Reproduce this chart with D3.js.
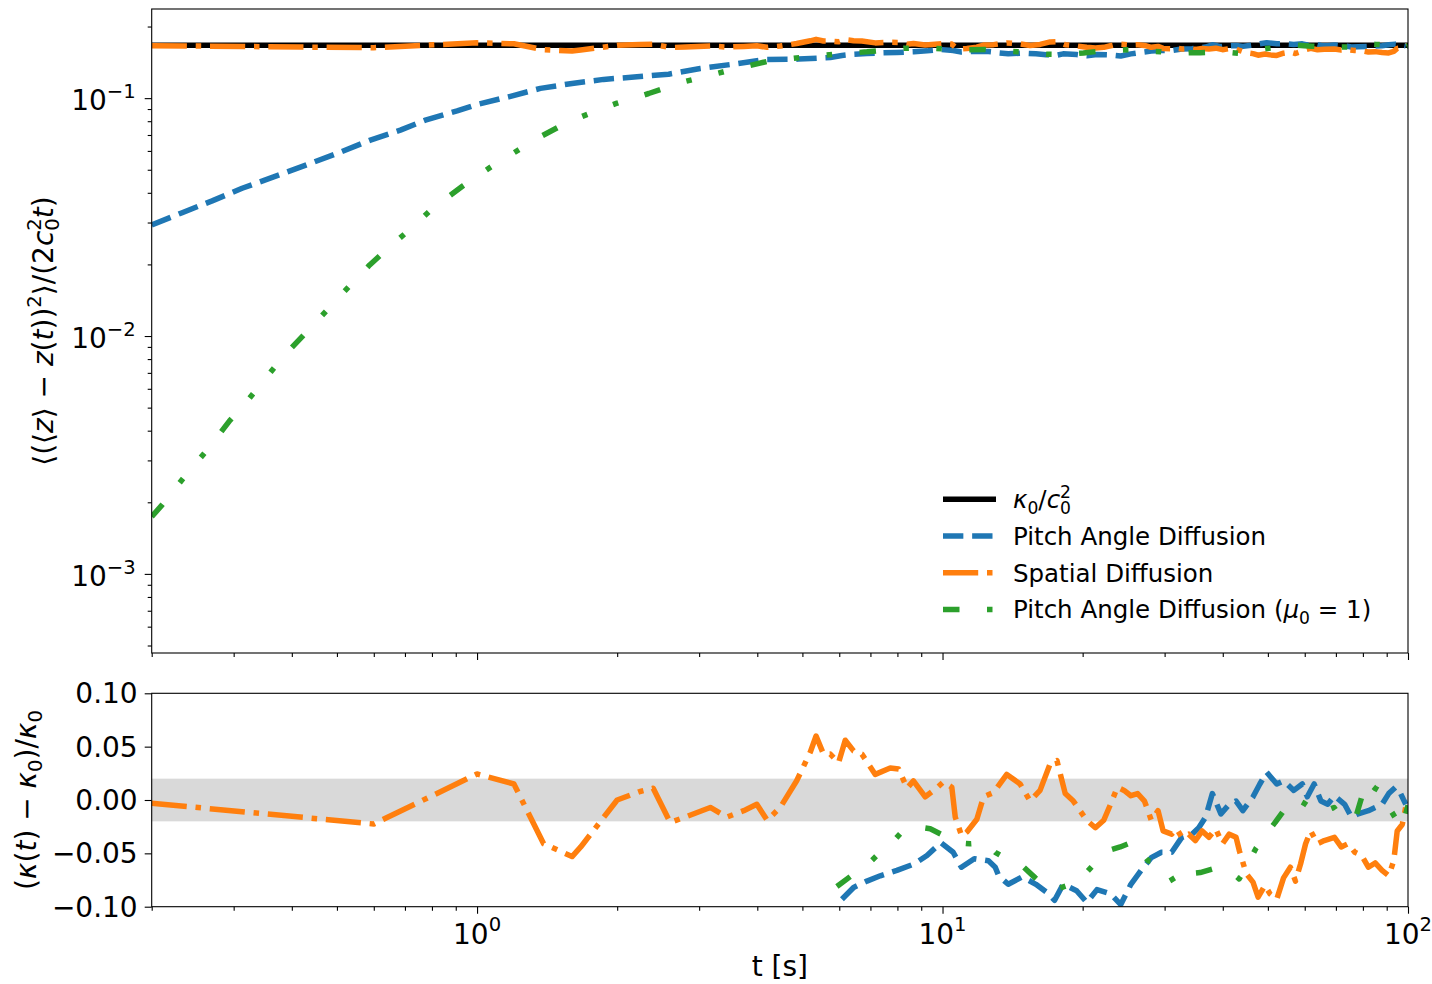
<!DOCTYPE html>
<html lang="en">
<head>
<meta charset="UTF-8">
<title>Diffusion coefficient</title>
<style>
  body { margin: 0; background: #fff; }
  #chart text { font-family: "DejaVu Sans", sans-serif; fill: #000; }
</style>
</head>
<body>
<svg id="chart" width="1432" height="984"></svg>
<script src="https://cdnjs.cloudflare.com/ajax/libs/d3/7.8.5/d3.min.js"></script>
<script>
// ---- data ----
const K0 = 0.1667; // kappa0 / c0^2

// top panel, early part (absolute value) before the deviation data starts
const blueEarlyT = [0.2, 0.2325, 0.2697, 0.3128, 0.3452, 0.4172, 0.5087, 0.590, 0.6843, 0.7744,
                    0.906, 1.0, 1.169, 1.368, 1.60, 1.87, 2.206, 2.579, 3.017, 3.557,
                    4.161, 4.906, 5.739];
const blueEarlyV = [0.0293, 0.0330, 0.0370, 0.0418, 0.0448, 0.0513, 0.0593, 0.0666, 0.0734, 0.0808,
                    0.0884, 0.0941, 0.1013, 0.1099, 0.1153, 0.1199, 0.1229, 0.1261, 0.1333, 0.1390,
                    0.1454, 0.1459, 0.1483];
const greenEarlyT = [0.2, 0.2106, 0.2351, 0.2645, 0.2942, 0.3091, 0.3458, 0.3876, 0.4385, 0.4607,
                     0.5188, 0.5879, 0.6708, 0.7075, 0.8067, 0.933, 1.077, 1.156, 1.334, 1.568,
                     1.834, 1.991, 2.337, 2.778, 3.278, 3.557, 4.197, 5.029];
const greenEarlyV = [0.00174, 0.00195, 0.00256, 0.00336, 0.00441, 0.00489, 0.00639, 0.0084, 0.0108, 0.0120,
                     0.0154, 0.0199, 0.0251, 0.0274, 0.0347, 0.0428, 0.0518, 0.0563, 0.0671, 0.0793,
                     0.0896, 0.0950, 0.1046, 0.1171, 0.1270, 0.1323, 0.1426, 0.1487];

// relative deviation (kappa(t) - kappa0) / kappa0
const orangeT = [0.2, 0.6, 1.0, 1.2, 1.39, 1.6, 1.67, 2.0, 2.24, 2.39,
                 2.6, 2.8, 3.17, 3.44, 3.74, 3.99, 4.2, 4.48, 4.86, 5.2,
                 5.35, 5.55, 5.74, 5.98, 6.18, 6.44, 6.71, 7.17, 7.72, 8.05,
                 8.39, 8.66, 9.18, 9.64, 10.05, 10.47, 10.65, 11.0, 11.28, 11.85,
                 12.25, 12.87, 13.74, 14.68, 15.42, 16.2, 17.03, 17.61, 18.35, 19.1,
                 20.4, 21.3, 22.2, 22.96, 23.75, 24.55, 25.39, 26.25, 27.16, 28.09,
                 29.04, 29.78, 31.07, 31.85, 32.66, 33.79, 34.92, 36.12, 37.35, 38.63,
                 39.95, 41.3, 42.72, 43.45, 44.93, 46.45, 47.64, 49.27, 50.53, 52.24,
                 54.03, 55.88, 57.31, 58.77, 60.26, 61.8, 63.91, 66.1, 69.5, 71.87,
                 74.3, 76.87, 79.48, 82.2, 85.0, 87.95, 90.9, 93.2, 94.8, 97.2,
                 99.7];
const orangeD = [-0.003, -0.0225, 0.0244, 0.015, -0.041, -0.053, -0.044, 0.0, 0.008, 0.011,
                 -0.021, -0.016, -0.007, -0.016, -0.010, -0.004, -0.019, -0.007, 0.018, 0.045,
                 0.060, 0.043, 0.043, 0.035, 0.056, 0.046, 0.043, 0.024, 0.030, 0.029,
                 0.011, 0.018, 0.003, 0.010, 0.017, 0.012, -0.016, -0.034, -0.030, -0.018,
                 0.003, 0.007, 0.024, 0.015, -0.001, 0.009, 0.034, 0.037, 0.006, -0.001,
                 -0.019, -0.026, -0.019, -0.004, 0.012, 0.009, 0.004, 0.006, -0.001, -0.019,
                 -0.010, -0.029, -0.032, -0.027, -0.035, -0.032, -0.038, -0.029, -0.035, -0.027,
                 -0.041, -0.032, -0.035, -0.048, -0.069, -0.077, -0.091, -0.080, -0.088, -0.093,
                 -0.073, -0.063, -0.076, -0.060, -0.041, -0.029, -0.041, -0.038, -0.035, -0.044,
                 -0.041, -0.049, -0.052, -0.063, -0.059, -0.066, -0.071, -0.057, -0.029, -0.023,
                 0.001];
const blueT = [6.08, 6.44, 6.88, 7.35, 7.98, 8.68, 9.26, 9.92, 10.54, 10.98,
               11.70, 12.55, 12.98, 13.20, 13.84, 14.83, 15.87, 16.69, 17.41, 18.16,
               19.41, 20.42, 21.47, 22.96, 24.15, 25.39, 26.70, 28.09, 29.53, 31.07,
               32.66, 34.35, 35.52, 36.74, 37.99, 39.63, 41.32, 42.72, 44.18, 46.46,
               48.05, 49.70, 52.24, 54.03, 56.83, 59.27, 60.77, 62.85, 65.0, 67.22,
               69.5, 73.09, 75.59, 78.16, 82.2, 85.0, 87.95, 90.9, 94.0, 96.4,
               98.9];
const blueD = [-0.093, -0.082, -0.076, -0.071, -0.066, -0.060, -0.052, -0.040, -0.049, -0.063,
               -0.055, -0.057, -0.063, -0.071, -0.079, -0.072, -0.079, -0.086, -0.094, -0.079,
               -0.085, -0.096, -0.084, -0.088, -0.098, -0.079, -0.066, -0.054, -0.049, -0.049,
               -0.035, -0.032, -0.026, -0.016, 0.006, -0.013, -0.004, -0.001, -0.010, 0.003,
               0.015, 0.026, 0.015, 0.018, 0.009, 0.015, 0.003, 0.015, -0.001, -0.004,
               0.004, -0.004, -0.016, -0.013, -0.010, -0.007, -0.004, 0.006, 0.012, 0.006,
               -0.004];
const greenT = [5.93, 6.37, 6.88, 7.35, 7.79, 8.25, 8.78, 9.41, 10.03, 10.73,
                11.47, 12.35, 12.98, 13.98, 14.94, 15.82, 16.70, 17.72, 18.90, 20.08,
                21.28, 22.47, 24.08, 25.74, 26.72, 27.66, 29.35, 30.54, 31.61, 33.79,
                35.77, 38.52, 41.90, 43.38, 45.36, 47.18, 49.33, 51.84, 54.47, 56.94,
                59.83, 62.23, 64.75, 69.37, 71.82, 77.36, 79.69, 81.28, 84.97, 88.85,
                91.06, 94.28, 97.13, 100];
const greenD = [-0.081, -0.071, -0.061, -0.049, -0.040, -0.028, -0.025, -0.027, -0.033, -0.040,
                -0.041, -0.040, -0.049, -0.057, -0.063, -0.073, -0.082, -0.083, -0.079, -0.071,
                -0.059, -0.048, -0.044, -0.039, -0.049, -0.057, -0.059, -0.068, -0.079, -0.069,
                -0.068, -0.064, -0.068, -0.074, -0.059, -0.045, -0.033, -0.021, -0.008, 0.002,
                -0.003, -0.008, -0.012, -0.007, -0.017, -0.015, 0.004, 0.018, 0.011, 0.006,
                -0.007, -0.018, -0.026, -0.005];

const xMajor = [1, 10, 100];
const xMajorExp = ["0", "1", "2"];
const yTopMajor = [1e-3, 1e-2, 1e-1];
const yTopMajorExp = ["\u22123", "\u22122", "\u22121"];
const yBotTicks = [-0.1, -0.05, 0, 0.05, 0.1];
const yBotLabels = ["\u22120.10", "\u22120.05", "0.00", "0.05", "0.10"];
const bandLimit = 0.02;

// ---- layout ----
const L = 151.7, R = 1408;
const T1 = 9, B1 = 653;        // top panel
const T2 = 693.3, B2 = 906.7;  // bottom panel
const TICK_FS = 28, LABEL_FS = 28, LEG_FS = 24.5;
const LW = 5.5;
const colors = { black: "#000000", blue: "#1f77b4", orange: "#ff7f0e", green: "#2ca02c" };
const dashes = {
  black: null,
  blue: [3.7, 1.6].map(d => d * LW).join(","),
  orange: [6.4, 1.6, 1, 1.6].map(d => d * LW).join(","),
  green: [3, 5, 1, 5, 1, 5].map(d => d * LW).join(",")
};

const x = d3.scaleLog().domain([0.2, 100]).range([L, R]);
const yTop = d3.scaleLog().domain([4.65e-4, 0.237]).range([B1, T1]);
const yBot = d3.scaleLinear().domain([-0.1, 0.1]).range([B2, T2]);

// ---- series ----
const zip = (ts, vs) => ts.map((t, i) => ({ t: t, v: vs[i] }));
const fromDev = (ts, ds) => ts.map((t, i) => ({ t: t, v: K0 * (1 + ds[i]) }));
const series = {
  black: [{ t: 0.2, v: K0 }, { t: 100, v: K0 }],
  blue: zip(blueEarlyT, blueEarlyV).concat(fromDev(blueT, blueD)),
  orange: fromDev(orangeT, orangeD),
  green: zip(greenEarlyT, greenEarlyV).concat(fromDev(greenT, greenD))
};
// bottom panel: relative deviation only where it was recorded
const devSeries = {
  blue: zip(blueT, blueD),
  orange: zip(orangeT, orangeD),
  green: zip(greenT, greenD)
};
const order = ["black", "blue", "orange", "green"];

const svg = d3.select("#chart");
const defs = svg.append("defs");
defs.append("clipPath").attr("id", "clipTop").append("rect")
    .attr("x", L).attr("y", T1).attr("width", R - L).attr("height", B1 - T1);
defs.append("clipPath").attr("id", "clipBot").append("rect")
    .attr("x", L).attr("y", T2).attr("width", R - L).attr("height", B2 - T2);

// small mathtext helper: parts = [{s, i(talic), sup, sub, dx}]
function rich(textSel, parts, size) {
  let shift = 0;
  parts.forEach(p => {
    let want = 0, fs = size;
    if (p.sup) { want = -0.44 * size; fs = 0.7 * size; }
    if (p.sub) { want = 0.22 * size; fs = 0.7 * size; }
    const ts = textSel.append("tspan").text(p.s)
        .attr("dy", want - shift)
        .style("font-size", fs + "px");
    if (p.i) ts.style("font-style", "italic");
    if (p.dx) ts.attr("dx", p.dx * size);
    shift = want;
  });
}

// ---- top panel ----
const lineTop = d3.line().x(d => x(d.t)).y(d => yTop(d.v));
const gTop = svg.append("g").attr("clip-path", "url(#clipTop)");
order.forEach(k => {
  gTop.append("path").datum(series[k])
      .attr("d", lineTop)
      .attr("fill", "none")
      .attr("stroke", colors[k])
      .attr("stroke-width", LW)
      .attr("stroke-linejoin", "round")
      .attr("stroke-dasharray", dashes[k]);
});

// ---- bottom panel ----
const lineBot = d3.line().x(d => x(d.t)).y(d => yBot(d.v));
const gBot = svg.append("g").attr("clip-path", "url(#clipBot)");
gBot.append("rect")
    .attr("x", L).attr("width", R - L)
    .attr("y", yBot(bandLimit)).attr("height", yBot(-bandLimit) - yBot(bandLimit))
    .attr("fill", "#808080").attr("fill-opacity", 0.3);
order.slice(1).forEach(k => {
  gBot.append("path").datum(devSeries[k])
      .attr("d", lineBot)
      .attr("fill", "none")
      .attr("stroke", colors[k])
      .attr("stroke-width", LW)
      .attr("stroke-linejoin", "round")
      .attr("stroke-dasharray", dashes[k]);
});

// ---- axes ----
const xMinor = [];
[0.1, 1, 10].forEach(dec => d3.range(2, 10).forEach(m => {
  const v = m * dec;
  if (v >= 0.2 - 1e-9 && v <= 100) xMinor.push(v);
}));
const yMinor = [];
[1e-4, 1e-3, 1e-2, 1e-1].forEach(dec => d3.range(2, 10).forEach(m => {
  const v = m * dec;
  if (v >= 4.65e-4 && v <= 0.237) yMinor.push(v);
}));

function tickAxis(axis, vals, len, transform) {
  const g = svg.append("g").attr("transform", transform)
      .call(axis.tickValues(vals).tickSize(len).tickSizeOuter(0).tickFormat(""));
  g.select(".domain").remove();
  g.selectAll(".tick line").attr("stroke", "#000").attr("stroke-width", 1.1);
  return g;
}
[B1, B2].forEach(yy => {
  tickAxis(d3.axisBottom(x), xMajor, 7, `translate(0,${yy})`);
  tickAxis(d3.axisBottom(x), xMinor, 4, `translate(0,${yy})`);
});
tickAxis(d3.axisLeft(yTop), yTopMajor, 7, `translate(${L},0)`);
tickAxis(d3.axisLeft(yTop), yMinor, 4, `translate(${L},0)`);
tickAxis(d3.axisLeft(yBot), yBotTicks, 7, `translate(${L},0)`);

// spines
[[T1, B1], [T2, B2]].forEach(([a, b]) => {
  svg.append("rect").attr("x", L).attr("y", a).attr("width", R - L).attr("height", b - a)
      .attr("fill", "none").attr("stroke", "#000").attr("stroke-width", 1.1);
});

// tick labels
xMajor.forEach((v, i) => {
  const t = svg.append("text").attr("x", x(v)).attr("y", B2 + 37)
      .attr("text-anchor", "middle").style("font-size", TICK_FS + "px");
  rich(t, [{ s: "10" }, { s: xMajorExp[i], sup: true }], TICK_FS);
});
yTopMajor.forEach((v, i) => {
  const t = svg.append("text").attr("x", L - 16).attr("y", yTop(v) + 12)
      .attr("text-anchor", "end").style("font-size", TICK_FS + "px");
  rich(t, [{ s: "10" }, { s: yTopMajorExp[i], sup: true }], TICK_FS);
});
yBotTicks.forEach((v, i) => {
  svg.append("text").attr("x", L - 14).attr("y", yBot(v)).attr("dy", "0.36em")
      .attr("text-anchor", "end").style("font-size", TICK_FS + "px")
      .text(yBotLabels[i]);
});

// axis labels
svg.append("text").attr("x", (L + R) / 2).attr("y", 976)
    .attr("text-anchor", "middle").style("font-size", LABEL_FS + "px").text("t [s]");

const yl1 = svg.append("text")
    .attr("transform", `translate(53,${(T1 + B1) / 2}) rotate(-90)`)
    .attr("text-anchor", "middle").style("font-size", LABEL_FS + "px");
rich(yl1, [
  { s: "\u27e8(\u27e8" }, { s: "z", i: true }, { s: "\u27e9 \u2212 " }, { s: "z", i: true },
  { s: "(" }, { s: "t", i: true }, { s: "))" }, { s: "2", sup: true }, { s: "\u27e9/(2" },
  { s: "c", i: true }, { s: "0", sub: true }, { s: "2", sup: true, dx: -0.445 },
  { s: "t", i: true }, { s: ")" }
], LABEL_FS);

const yl2 = svg.append("text")
    .attr("transform", `translate(36,${(T2 + B2) / 2}) rotate(-90)`)
    .attr("text-anchor", "middle").style("font-size", LABEL_FS + "px");
rich(yl2, [
  { s: "(" }, { s: "\u03ba", i: true }, { s: "(" }, { s: "t", i: true }, { s: ") \u2212 " },
  { s: "\u03ba", i: true }, { s: "0", sub: true }, { s: ")/" }, { s: "\u03ba", i: true },
  { s: "0", sub: true }
], LABEL_FS);

// ---- legend ----
const legendRows = [
  { key: "black", parts: [{ s: "\u03ba", i: true }, { s: "0", sub: true }, { s: "/" }, { s: "c", i: true },
                          { s: "0", sub: true }, { s: "2", sup: true, dx: -0.445 }] },
  { key: "blue", parts: [{ s: "Pitch Angle Diffusion" }] },
  { key: "orange", parts: [{ s: "Spatial Diffusion" }] },
  { key: "green", parts: [{ s: "Pitch Angle Diffusion (" }, { s: "\u03bc", i: true }, { s: "0", sub: true },
                          { s: " = 1)" }] }
];
const legY0 = 499.3, legDy = 36.7;
legendRows.forEach((row, i) => {
  const cy = legY0 + i * legDy;
  svg.append("line").attr("x1", 943).attr("x2", 996).attr("y1", cy).attr("y2", cy)
      .attr("stroke", colors[row.key]).attr("stroke-width", LW)
      .attr("stroke-dasharray", dashes[row.key]);
  const t = svg.append("text").attr("x", 1013).attr("y", cy + 9)
      .style("font-size", LEG_FS + "px");
  rich(t, row.parts, LEG_FS);
});
</script>
</body>
</html>
